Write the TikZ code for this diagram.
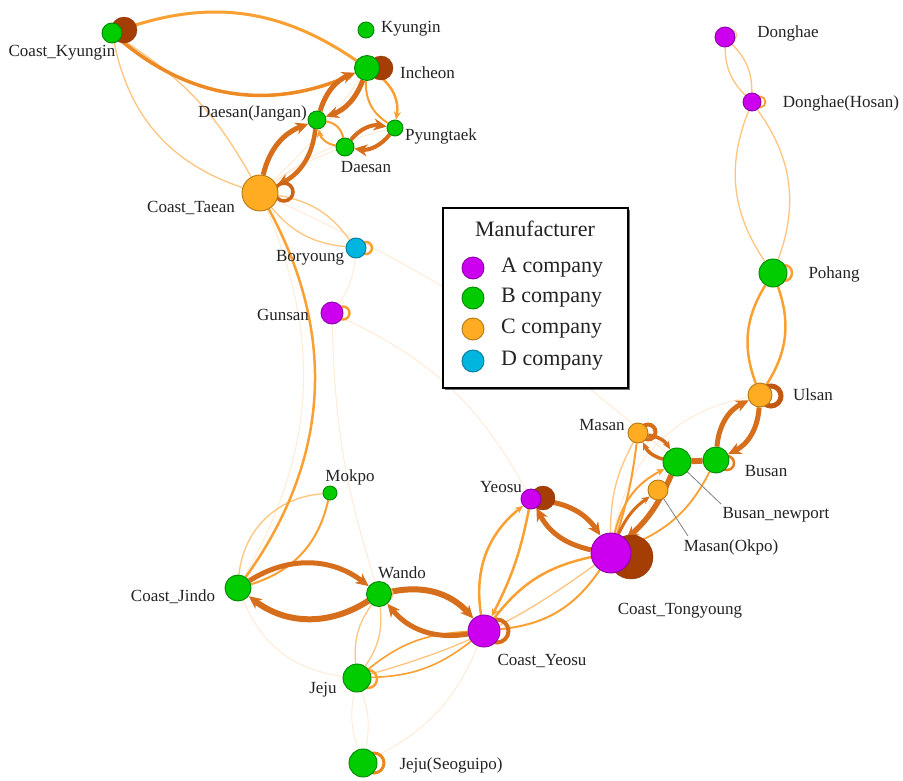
\documentclass[tikz,border=0pt]{standalone}
\usepackage{fontspec}
\setmainfont{Liberation Serif}
\usetikzlibrary{arrows.meta}
\definecolor{cA}{RGB}{204,0,238}
\definecolor{cAb}{RGB}{140,0,165}
\definecolor{cB}{RGB}{0,204,0}
\definecolor{cBb}{RGB}{0,135,0}
\definecolor{cC}{RGB}{255,172,35}
\definecolor{cCb}{RGB}{180,120,20}
\definecolor{cD}{RGB}{0,182,222}
\definecolor{cDb}{RGB}{0,120,160}
\definecolor{eFaint}{RGB}{255,234,212}
\definecolor{eLight}{RGB}{255,196,125}
\definecolor{eMed}{RGB}{250,160,50}
\definecolor{eDark}{RGB}{214,110,28}
\definecolor{eBrown}{RGB}{165,62,5}
\definecolor{txt}{RGB}{35,35,35}
\tikzset{
  nodebase/.style={circle, inner sep=0pt, line width=0.9pt},
  nA/.style={nodebase, fill=cA, draw=cAb, minimum size=#1},
  nB/.style={nodebase, fill=cB, draw=cBb, minimum size=#1},
  nC/.style={nodebase, fill=cC, draw=cCb, minimum size=#1},
  nD/.style={nodebase, fill=cD, draw=cDb, minimum size=#1},
  disc/.style={circle, inner sep=0pt, fill=eBrown, draw=eBrown!85!black, line width=0.4pt, minimum size=#1},
  ring/.style={circle, inner sep=0pt, minimum size=#1},
  lbl/.style={font=\fontsize{17}{17}\selectfont, text=txt, inner sep=0pt},
  ef/.style={draw=eFaint, line width=0.9pt},
  el/.style={draw=eLight, line width=1.3pt},
  em/.style={draw=eMed, line width=#1},
  ed/.style={draw=eDark, line width=#1},
  ahs/.style={-{Stealth[length=8pt,width=7pt]}},
  ahl/.style={-{Stealth[length=13pt,width=12pt]}},
}
\begin{document}
\begin{tikzpicture}[x=1pt,y=-1pt]
\useasboundingbox (0,0) rectangle (903,780);
\fill[white] (0,0) rectangle (903,780);

% ---------- node anchors (invisible; visible copies drawn on top later) ----------
\begin{scope}[opacity=0]
\node[nB=20] (CK) at (112,33) {};
\node[nB=16] (KY) at (366,30) {};
\node[nB=25] (IN) at (367,68) {};
\node[nB=18] (DJ) at (317,120) {};
\node[nB=16] (PY) at (395,128) {};
\node[nB=18] (DS) at (345,147) {};
\node[nC=36] (CT) at (260,193) {};
\node[nD=20] (BR) at (356,248) {};
\node[nA=22] (GS) at (332,313) {};
\node[nA=20] (DH) at (725,37) {};
\node[nA=18] (DHH) at (752,102) {};
\node[nB=28] (PH) at (773,273) {};
\node[nC=24] (US) at (760,395) {};
\node[nC=20] (MS) at (638,433) {};
\node[nB=28] (BN) at (677,462) {};
\node[nB=26] (BS) at (716,460) {};
\node[nC=20] (MO) at (658,490) {};
\node[nA=40] (CTY) at (611,553) {};
\node[nA=20] (YS) at (531,499) {};
\node[nA=32] (CY) at (484,631) {};
\node[nB=14] (MK) at (330,493) {};
\node[nB=26] (CJ) at (238,588) {};
\node[nB=25] (WD) at (379,594) {};
\node[nB=28] (JJ) at (357,678) {};
\node[nB=28] (JS) at (363,763) {};
\end{scope}

% ---------- faint edges ----------
\draw[ef] (CT) to[bend left=8] (DS);
\draw[ef] (CT) to[bend left=12] (PY);
\draw[ef] (CT) to[bend right=6] (IN);
\draw[ef] (CT) to[bend left=8] (BN);
\draw[ef] (BR) to[bend left=15] (GS);
\draw[ef] (GS) to[bend right=8] (WD);
\draw[ef] (GS) to[bend left=18] (YS);
\draw[ef] (CJ) to[bend right=26] (CT);
\draw[ef] (CJ) to[bend right=30] (JJ);
\draw[ef] (JJ) to[bend left=15] (JS);
\draw[ef] (JS) to[bend left=15] (JJ);
\draw[ef] (CY) to[bend left=20] (JS);
\draw[ef] (CTY) to[bend left=35] (US);

% ---------- light edges ----------
\draw[el] (CK) to[bend right=30] (CT);
\draw[el] (CK) to[bend left=14] (CT);
\draw[el] (CT) to[bend left=22] (BR);
\draw[el] (BR) to[bend left=22] (CT);
\draw[el] (CJ) to[bend left=40] (MK);
\draw[el] (WD) to[bend left=20] (JJ);
\draw[el] (JJ) to[bend left=20] (WD);
\draw[el] (DHH) to[bend left=28] (PH);
\draw[el] (PH) to[bend left=28] (DHH);
\draw[el] (DH) to[bend left=22] (DHH);
\draw[el] (DHH) to[bend left=22] (DH);
\draw[el] (CTY) to[bend left=14] (MS);
\draw[el] (JJ) to[bend right=10] (CTY);

% ---------- medium edges ----------
\draw[em=3pt] (IN) to[bend right=27] (CK);
\draw[em=3.5pt, draw={rgb,255:red,238;green,138;blue,35}, ahs] (CK) to[bend right=32] (IN);
\draw[em=2.5pt] (CT) to[bend left=32] (CJ);
\draw[em=2pt] (MK) to[bend left=30] (CJ);
\draw[em=2.5pt, ahs] (IN) to[bend left=32] (PY);
\draw[em=2pt] (PY) to[bend left=30] (IN);
\draw[em=2pt] (DJ) to[bend left=35] (DS);
\draw[em=2pt, ahs] (DS) to[bend left=35] (DJ);
\draw[em=1.6pt] (JJ) to[bend left=18] (CY);
\draw[em=1.6pt] (CY) to[bend left=18] (JJ);
\draw[em=2.5pt, ahs] (CY) to[bend left=30] (YS);
\draw[em=2.5pt, ahs] (YS) to[bend left=8] (CY);
\draw[em=2.5pt] (CY) to[bend left=20] (CTY);
\draw[em=2pt] (CTY) to[bend left=25] (CY);
\draw[em=2pt, ahs] (CTY) to[bend left=25] (BN);
\draw[em=1.8pt] (CTY) to[bend right=20] (BS);
\draw[em=2pt] (CTY) to[bend right=5] (MS);
\draw[em=2.5pt] (US) to[bend left=26] (PH);
\draw[em=2.5pt] (PH) to[bend left=26] (US);

% ---------- dark thick edges ----------
\draw[ed=5pt, ahl] (CT) to[bend left=28] (DJ);
\draw[ed=4.5pt, ahl] (DJ) to[bend left=28] (CT);
\draw[ed=5pt, ahl] (DJ) to[bend left=25] (IN);
\draw[ed=5pt, ahl] (IN) to[bend left=25] (DJ);
\draw[ed=4pt, ahl] (DS) to[bend left=30] (PY);
\draw[ed=4pt, ahl] (PY) to[bend left=30] (DS);
\draw[ed=5pt, ahl] (CJ) to[bend left=35] (WD);
\draw[ed=6pt, ahl] (WD) to[bend left=35] (CJ);
\draw[ed=6pt, ahl] (WD) to[bend left=30] (CY);
\draw[ed=5pt, ahl] (CY) to[bend left=30] (WD);
\draw[ed=5pt, ahl] (YS) to[bend left=25] (CTY);
\draw[ed=5pt, ahl] (CTY) to[bend left=25] (YS);
\draw[ed=3pt, ahs] (CTY) to[bend left=15] (MO);
\draw[ed=5.5pt, ahl] (BN) to[bend left=12] (CTY);
\draw[ed=3.5pt, ahs] (BN) to[bend left=25] (MS);
\draw[ed=3.5pt, ahs] (MS) to[bend left=25] (BN);
\draw[ed=6pt] (BN) -- (BS);
\draw[ed=5pt, ahl] (BS) to[bend left=30] (US);
\draw[ed=5pt, ahl] (US) to[bend left=30] (BS);

% ---------- self loops ----------
\node[disc=26] (dCK) at (124,30) {};
\node[disc=24] (dIN) at (381,68) {};
\node[disc=24] (dYS) at (543,498) {};
\node[disc=44] (dCTY) at (631,557) {};
\node[ring=18, draw={rgb,255:red,205;green,100;blue,20}, line width=3.5pt] (oCT) at (284,192) {};
\node[ring=12, draw=eMed, line width=2.5pt] (oBR) at (366,248) {};
\node[ring=13, draw=eMed, line width=2.5pt] (oGS) at (343,313) {};
\node[ring=10, draw=eLight, line width=1pt] (oDH) at (732,35) {};
\node[ring=11, draw=eMed, line width=1.8pt] (oDHH) at (760,102) {};
\node[ring=16, draw=eMed, line width=2.5pt] (oPH) at (784,273) {};
\node[ring=20, draw={rgb,255:red,195;green,88;blue,18}, line width=5pt] (oUS) at (771,396) {};
\node[ring=15, draw=eDark, line width=4pt] (oMS) at (648,432) {};
\node[ring=14, draw={rgb,255:red,230;green,125;blue,30}, line width=2.5pt] (oBS) at (727,463) {};
\node[ring=23, draw=eDark, line width=4pt] (oCY) at (497,631) {};
\node[ring=12, draw=eLight, line width=1pt] (oWD) at (387,594) {};
\node[ring=18, draw=eMed, line width=2.5pt] (oJJ) at (368,679) {};
\node[ring=20, draw={rgb,255:red,235;green,135;blue,30}, line width=3pt] (oJS) at (374,763) {};

% ---------- visible nodes ----------
\node[nB=20] (CKv) at (CK) {};
\node[nB=16] (KYv) at (KY) {};
\node[nB=25] (INv) at (IN) {};
\node[nB=18] (DJv) at (DJ) {};
\node[nB=16] (PYv) at (PY) {};
\node[nB=18] (DSv) at (DS) {};
\node[nC=36] (CTv) at (CT) {};
\node[nD=20] (BRv) at (BR) {};
\node[nA=22] (GSv) at (GS) {};
\node[nA=20] (DHv) at (DH) {};
\node[nA=18] (DHHv) at (DHH) {};
\node[nB=28] (PHv) at (PH) {};
\node[nC=24] (USv) at (US) {};
\node[nC=20] (MSv) at (MS) {};
\node[nB=28] (BNv) at (BN) {};
\node[nB=26] (BSv) at (BS) {};
\node[nC=20] (MOv) at (MO) {};
\node[nA=40] (CTYv) at (CTY) {};
\node[nA=20] (YSv) at (YS) {};
\node[nA=32] (CYv) at (CY) {};
\node[nB=14] (MKv) at (MK) {};
\node[nB=26] (CJv) at (CJ) {};
\node[nB=25] (WDv) at (WD) {};
\node[nB=28] (JJv) at (JJ) {};
\node[nB=28] (JSv) at (JS) {};

% ---------- leader lines ----------
\coordinate (bnl) at (721,504);
\coordinate (mol) at (688,536);
\draw[gray, line width=0.8pt] (BN) -- (bnl);
\draw[gray, line width=0.8pt] (MO) -- (mol);

% ---------- labels ----------
\node[lbl] (lCK) at (62,53) {Coast\_Kyungin};
\node[lbl, anchor=west] (lKY) at (381,29) {Kyungin};
\node[lbl, anchor=west] (lIN) at (400,73) {Incheon};
\node[lbl, anchor=east] (lDJ) at (307,113) {Daesan(Jangan)};
\node[lbl, anchor=west] (lPY) at (405,136) {Pyungtaek};
\node[lbl] (lDS) at (366,167) {Daesan};
\node[lbl] (lCT) at (191,208) {Coast\_Taean};
\node[lbl] (lBR) at (310,258) {Boryoung};
\node[lbl] (lGS) at (283,315) {Gunsan};
\node[lbl] (lDH) at (788,33) {Donghae};
\node[lbl] (lDHH) at (841,103) {Donghae(Hosan)};
\node[lbl] (lPH) at (834,274) {Pohang};
\node[lbl] (lUS) at (813,395) {Ulsan};
\node[lbl] (lMS) at (602,425) {Masan};
\node[lbl] (lBS) at (766,471) {Busan};
\node[lbl] (lBN) at (776,515) {Busan\_newport};
\node[lbl] (lMO) at (731,547) {Masan(Okpo)};
\node[lbl] (lCTY) at (680,611) {Coast\_Tongyoung};
\node[lbl] (lYS) at (501,487) {Yeosu};
\node[lbl] (lCY) at (542,661) {Coast\_Yeosu};
\node[lbl] (lMK) at (350,477) {Mokpo};
\node[lbl] (lCJ) at (173,597) {Coast\_Jindo};
\node[lbl] (lWD) at (402,573) {Wando};
\node[lbl] (lJJ) at (323,690) {Jeju};
\node[lbl] (lJS) at (451,765) {Jeju(Seoguipo)};

% ---------- legend ----------
\node[fill=black!55, minimum width=185pt, minimum height=180pt, inner sep=0pt] (legS) at (537.5,300) {};
\node[draw=black, fill=white, line width=1.5pt, minimum width=185pt, minimum height=180pt, inner sep=0pt] (leg) at (535.5,298) {};
\node[font=\fontsize{22}{22}\selectfont, text=txt, inner sep=0pt] (legT) at (535,229) {Manufacturer};
\node[nA=22] (lgA) at (473,268) {};
\node[nB=22] (lgB) at (473,298) {};
\node[nC=22] (lgC) at (473,329) {};
\node[nD=22] (lgD) at (473,361) {};
\node[font=\fontsize{22}{22}\selectfont, text=txt, inner sep=0pt, anchor=west] (tA) at (501,268) {A company};
\node[font=\fontsize{22}{22}\selectfont, text=txt, inner sep=0pt, anchor=west] (tB) at (501,298) {B company};
\node[font=\fontsize{22}{22}\selectfont, text=txt, inner sep=0pt, anchor=west] (tC) at (501,329) {C company};
\node[font=\fontsize{22}{22}\selectfont, text=txt, inner sep=0pt, anchor=west] (tD) at (501,361) {D company};
\end{tikzpicture}
\end{document}
